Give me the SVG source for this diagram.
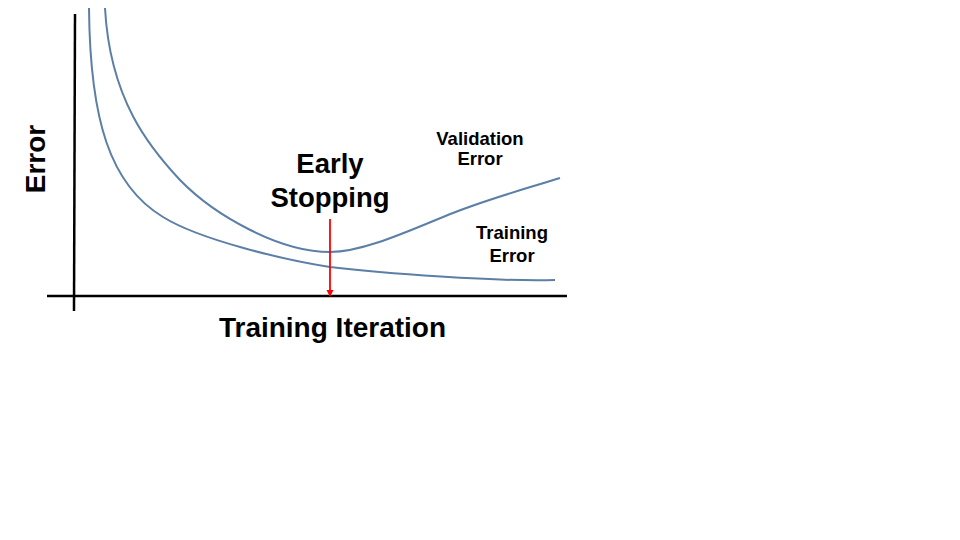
<svg xmlns="http://www.w3.org/2000/svg" width="960" height="540" viewBox="0 0 960 540">
<defs>
<style>
.curve{fill:none;stroke:#5b7fa6;stroke-width:2}
.axis{stroke:#000;stroke-width:2.5;fill:none}
.big{font-family:"Liberation Sans",Arial,sans-serif;font-weight:bold;font-size:28px;fill:#000;text-anchor:middle}
.mid{font-family:"Liberation Sans",Arial,sans-serif;font-weight:bold;font-size:27.5px;fill:#000;text-anchor:middle}
.small{font-family:"Liberation Sans",Arial,sans-serif;font-weight:bold;font-size:18.5px;fill:#000;text-anchor:middle}
</style>
</defs>
<rect width="960" height="540" fill="#fff"/>
<g id="axes">
<line class="axis" x1="75" y1="14" x2="74" y2="311"/>
<line class="axis" x1="47" y1="296" x2="567" y2="296"/>
</g>
<g id="connectors">
<path id="training-curve" class="curve" d="M89,8 C90,120 110,185 163,217 C200,240 285,260 330,267 C380,273 500,282 555,280"/>
<path id="validation-curve" class="curve" d="M105,8 C110,100 150,148 180,180 C215,216 280,252 330,252 C365,252 415,228 453,213 C490,198.4 525,189 560,178"/>
<line id="early-stop-arrow" x1="330" y1="219" x2="330" y2="291" stroke="#ff0000" stroke-width="1.8"/>
<path d="M326.5,290 L333.5,290 L330,297 Z" fill="#ff0000"/>
</g>
<g id="labels">
<text class="big" transform="translate(45,159) rotate(-90)">Error</text>
<text class="big" x="332.5" y="337">Training Iteration</text>
<text class="mid" x="330" y="173">Early</text>
<text class="mid" x="330" y="207">Stopping</text>
<text class="small" x="480" y="145">Validation</text>
<text class="small" x="480" y="165">Error</text>
<text class="small" x="512" y="239">Training</text>
<text class="small" x="512" y="261.5">Error</text>
</g>
</svg>
